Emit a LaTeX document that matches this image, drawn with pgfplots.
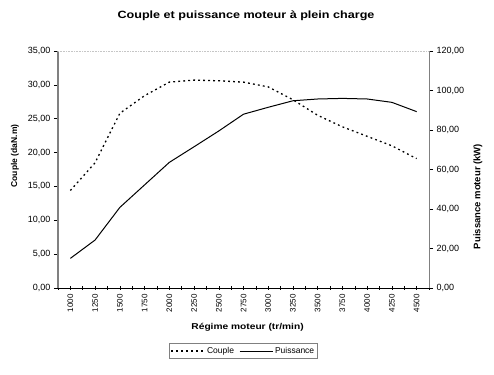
\documentclass[border=0pt]{standalone}
\usepackage{fontspec}
\setmainfont{Liberation Sans}
\usepackage{pgfplots}
\pgfplotsset{compat=1.18}
\begin{document}
\begin{tikzpicture}[x=1pt,y=1pt]
\path[use as bounding box] (0,0) rectangle (494,374);
\node[font=\bfseries\fontsize{10.5}{12}\selectfont, xscale=1.2] at (246,358) {Couple et puissance moteur à plein charge};
\pgfplotsset{
  common/.style={
    at={(58pt,86pt)}, anchor=south west, scale only axis,
    width=371pt, height=237pt,
    xmin=-0.5, xmax=14.5,
    /pgf/number format/.cd, fixed, fixed zerofill, precision=2, use comma, 1000 sep={}, assume math mode=true, /pgfplots/.cd,
    yticklabel style={font=\fontsize{9}{10}\selectfont},
    tick style={black, line width=0.5pt},
    major tick length=4pt,
  }
}
\begin{axis}[common,
  ymin=0, ymax=35, ytick={0,5,...,35},
  axis y line*=left, axis x line*=bottom,
  y axis line style={-, gray, line width=1.2pt},
  x axis line style={-, black, line width=0.6pt},
  xtick={0,...,14},
  xticklabels={1000,1250,1500,1750,2000,2250,2500,2750,3000,3250,3500,3750,4000,4250,4500},
  minor xtick={-0.5,0.5,...,14.5},
  minor tick length=4pt,
  xtick align=center, ytick align=outside,
  xticklabel style={rotate=90, anchor=east, font=\fontsize{8}{9}\selectfont, xshift=-1pt},
  xlabel={\bfseries Régime moteur (tr/min)},
  xlabel style={at={(axis description cs:0.511,-0.165)}, anchor=center, xscale=1.2, font=\fontsize{8.5}{10}\selectfont},
  ylabel={\bfseries Couple (daN.m)},
  ylabel style={at={(axis description cs:-0.116,0.557)}, anchor=center, font=\fontsize{8.5}{10}\selectfont},
]
\draw[gray!45, densely dotted, line width=0.6pt] (rel axis cs:0,1) -- (rel axis cs:1,1);
\addplot[black, line width=1.3pt, dash pattern=on 1.8pt off 3.2pt] coordinates {
(0,14.4) (1,18.5) (2,25.8) (3,28.4) (4,30.4) (5,30.7) (6,30.6) (7,30.4)
(8,29.7) (9,27.8) (10,25.5) (11,23.8) (12,22.4) (13,21.0) (14,19.1)};
\end{axis}
\begin{axis}[common,
  ymin=0, ymax=120, ytick={0,20,...,120},
  axis y line*=right, axis x line=none,
  y axis line style={-, gray, line width=1pt},
  ytick align=outside,
  ylabel={\bfseries Puissance moteur (kW)},
  ylabel style={at={(axis description cs:1.132,0.386)}, anchor=center, font=\fontsize{9.5}{11}\selectfont},
  legend columns=2,
  legend style={at={(0.5,-0.266)}, anchor=center, draw=gray, line width=0.5pt, font=\fontsize{8.5}{10}\selectfont, inner sep=1.5pt, /tikz/every even column/.append style={column sep=3pt}},
  legend image code/.code={\draw[#1] (0pt,0pt) -- (33pt,0pt);},
]
\addlegendimage{black, line width=1.3pt, dash pattern=on 1.8pt off 3.2pt}
\addlegendentry{Couple}
\addplot[black, line width=1pt] coordinates {
(0,15.0) (1,24.3) (2,40.8) (3,52.2) (4,63.6) (5,71.5) (6,79.5) (7,88.0)
(8,91.5) (9,94.8) (10,95.7) (11,96.0) (12,95.7) (13,94.0) (14,89.3)};
\addlegendentry{Puissance}
\end{axis}
\end{tikzpicture}
\end{document}
